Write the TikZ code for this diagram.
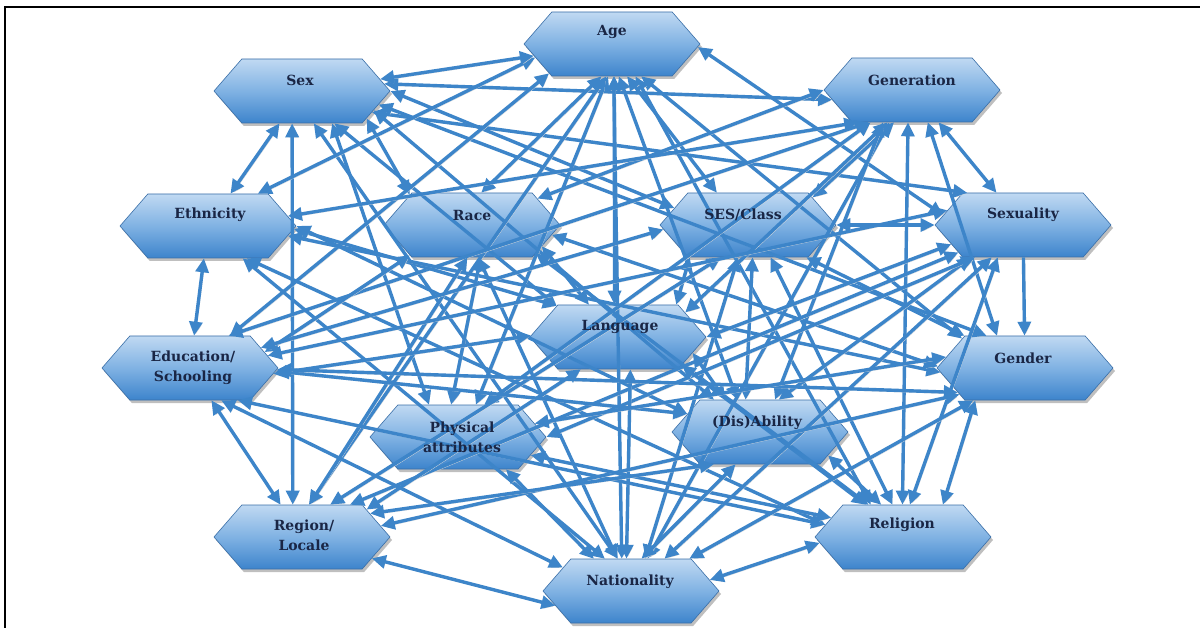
\documentclass[tikz,border=0pt]{standalone}
\usepackage{fontspec}
\usetikzlibrary{shapes.symbols,arrows.meta,shadows,calc}
\newfontfamily\labfont{DejaVu Serif}
\definecolor{hexTop}{HTML}{C0D9F2}
\definecolor{hexMid}{HTML}{80B2E3}
\definecolor{hexBot}{HTML}{3D84CC}
\definecolor{hexBorder}{HTML}{3A6FA8}
\definecolor{arrCol}{HTML}{3D85C9}
\definecolor{labCol}{HTML}{1A2645}
\tikzset{
  hex/.style={shape=signal, signal to=east and west, signal pointer angle=98,
    minimum width=176pt, minimum height=64pt, inner sep=0pt,
    draw=hexBorder, line width=0.6pt, top color=hexTop, bottom color=hexBot, middle color=hexMid,
    drop shadow={shadow xshift=2pt, shadow yshift=-3pt, opacity=0.25, fill=black}},
  lab/.style={font=\labfont\bfseries\fontsize{14}{20}\selectfont, text=labCol, align=center, inner sep=0pt},
  link/.style={draw=arrCol, line width=3.4pt, {Triangle[length=14pt,width=13pt]}-{Triangle[length=14pt,width=13pt]},
    preaction={draw=black!15, transform canvas={shift={(1.3pt,-1.6pt)}}}},
  link1/.style={draw=arrCol, line width=3.4pt, -{Triangle[length=14pt,width=13pt]},
    preaction={draw=black!15, transform canvas={shift={(1.3pt,-1.6pt)}}}},
}
\begin{document}
\begin{tikzpicture}[x=1pt,y=-1pt]
\useasboundingbox (0,0) rectangle (1200,628);
\fill[white] (0,0) rectangle (1200,628);
\draw[black, line width=2pt] (1200,7.5) -- (5,7.5) -- (5,628);
% nodes
\node[hex] (age)  at (612,44)  {};
\node[hex] (sex)  at (302,91)  {};
\node[hex] (gen)  at (912,90)  {};
\node[hex] (eth)  at (208,226) {};
\node[hex] (race) at (472,225) {};
\node[hex] (ses)  at (748,225) {};
\node[hex] (sexu) at (1023,225) {};
\node[hex] (lang) at (618,337) {};
\node[hex] (edu)  at (190,368) {};
\node[hex] (gend) at (1025,368) {};
\node[hex] (phys) at (458,437) {};
\node[hex] (dis)  at (760,432) {};
\node[hex] (reg)  at (302,537) {};
\node[hex] (rel)  at (903,537) {};
\node[hex] (nat)  at (631,591) {};
% connectors
\pgfmathsetseed{4242}
\foreach \a/\b in {sex/gen,sex/race,sex/phys,sex/reg,sex/sexu,sex/gend,sex/lang,sex/nat,sex/dis,sex/ses,
  age/eth,age/edu,age/race,age/lang,age/nat,age/dis,age/gend,age/rel,age/sexu,age/phys,age/ses,age/reg,
  gen/ses,gen/race,gen/eth,gen/edu,gen/lang,gen/gend,gen/rel,gen/nat,gen/dis,gen/phys,
  eth/lang,eth/gend,eth/dis,eth/nat,eth/rel,
  race/lang,race/phys,race/edu,race/gend,race/rel,race/nat,race/reg,
  ses/lang,ses/gend,ses/dis,ses/rel,ses/nat,ses/edu,ses/reg,
  sexu/edu,sexu/lang,sexu/dis,sexu/phys,sexu/nat,sexu/reg,sexu/rel,
  lang/dis,lang/nat,lang/edu,lang/reg,lang/rel,
  edu/dis,edu/nat,edu/gend,edu/rel,
  gend/nat,gend/rel,gend/reg,gend/phys,
  phys/nat,phys/rel,
  dis/nat,dis/rel,dis/reg,
  reg/nat,rel/nat}
{
  \pgfmathsetmacro\oa{random(-22,22)}
  \pgfmathsetmacro\ob{random(-22,22)}
  \draw[link] let \p1=($(\b)-(\a)$), \n1={atan2(\y1,\x1)+\oa}, \n2={atan2(\y1,\x1)+180+\ob}
    in (\a.\n1) -- (\b.\n2);
}
\draw[link] (sex) -- (age);
\draw[link] (sex) -- (eth);
\draw[link] (eth) -- (edu);
\draw[link] (edu) -- (reg);
\draw[link] (gen) -- (sexu);
\draw[link] (ses) -- (sexu);
\draw[link1] (sexu) -- (gend);
% labels
\node[lab] (tage)  at (612,32)  {Age};
\node[lab] (tsex)  at (300,80)  {Sex};
\node[lab] (tgen)  at (912,80)  {Generation};
\node[lab] (teth)  at (210,215) {Ethnicity};
\node[lab] (trace) at (472,215) {Race};
\node[lab] (tses)  at (743,215) {SES/Class};
\node[lab] (tsexu) at (1023,215) {Sexuality};
\node[lab] (tlang) at (620,327) {Language};
\node[lab] (tedu)  at (193,368) {Education/\\Schooling};
\node[lab] (tgend) at (1023,358) {Gender};
\node[lab] (tphys) at (462,437) {Physical\\attributes};
\node[lab] (tdis)  at (757,423) {(Dis)Ability};
\node[lab] (treg)  at (304,535) {Region/\\Locale};
\node[lab] (trel)  at (902,525) {Religion};
\node[lab] (tnat)  at (630,582) {Nationality};
\end{tikzpicture}
\end{document}
